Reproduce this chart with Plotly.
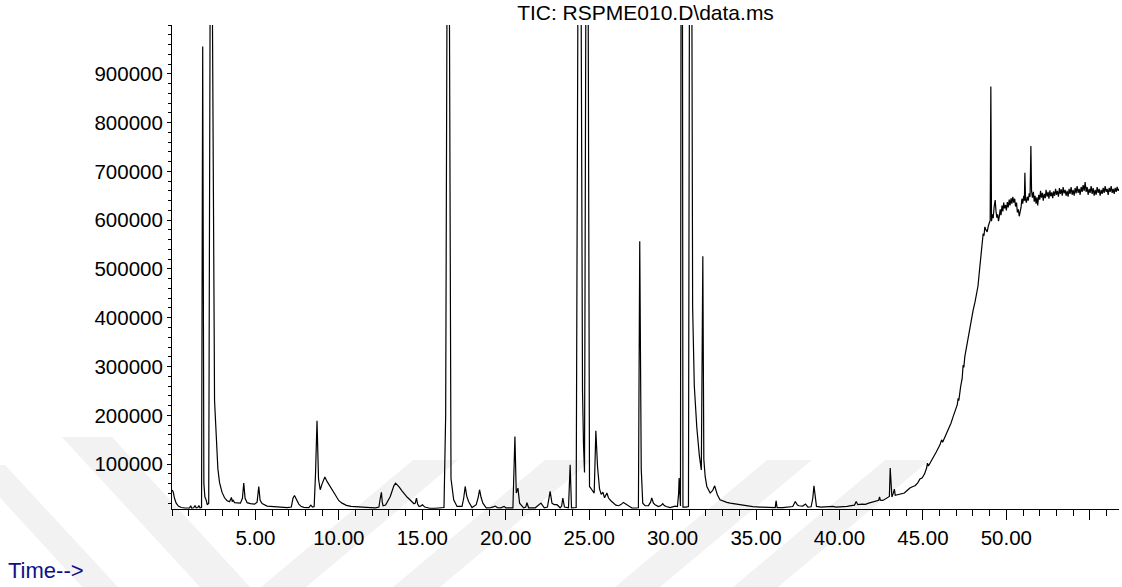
import plotly.graph_objects as go

# ---------------- data ----------------
time_min = [
    0.02, 0.08, 0.15, 0.25, 0.38, 0.55, 0.8, 1.05, 1.12, 1.18, 1.3, 1.38, 1.45, 1.55, 1.61, 1.68, 1.77,
    1.84, 1.91, 1.97, 2.05, 2.11, 2.2, 2.33, 2.55, 2.65, 2.75, 2.85, 3.0, 3.15, 3.3, 3.45, 3.56, 3.61,
    3.66, 3.75, 3.9, 4.1, 4.22, 4.3, 4.38, 4.5, 4.7, 4.95, 5.1, 5.2, 5.28, 5.4, 5.7, 6.0, 6.3, 6.6, 6.9,
    7.15, 7.25, 7.34, 7.45, 7.6, 7.75, 7.9, 8.2, 8.32, 8.42, 8.52, 8.6, 8.69, 8.78, 8.88, 9.0, 9.16, 9.3,
    9.44, 9.55, 9.65, 9.76, 9.87, 10.0, 10.19, 10.45, 10.73, 11.15, 11.5, 11.9, 12.2, 12.4, 12.48, 12.55,
    12.6, 12.65, 12.8, 12.95, 13.08, 13.2, 13.3, 13.4, 13.5, 13.62, 13.78, 13.94, 14.1, 14.26, 14.4, 14.5,
    14.58, 14.65, 14.72, 14.8, 14.9, 15.01, 15.15, 15.44, 15.8, 16.1, 16.3, 16.4, 16.55, 16.72, 16.88,
    17.08, 17.38, 17.48, 17.57, 17.66, 17.77, 17.98, 18.23, 18.35, 18.43, 18.52, 18.63, 18.83, 19.1, 19.3,
    19.37, 19.5, 19.7, 19.9, 20.0, 20.3, 20.43, 20.55, 20.63, 20.73, 20.83, 21.07, 21.2, 21.27, 21.37,
    21.77, 21.95, 22.11, 22.31, 22.5, 22.66, 22.77, 22.9, 23.07, 23.26, 23.35, 23.42, 23.52, 23.76, 23.86,
    23.94, 24.22, 24.42, 24.6, 24.66, 24.72, 24.87, 25.02, 25.16, 25.3, 25.4, 25.5, 25.62, 25.72, 25.82,
    25.92, 26.06, 26.16, 26.3, 26.46, 26.6, 26.76, 26.9, 27.05, 27.15, 27.26, 27.4, 27.56, 27.8, 27.95,
    28.03, 28.12, 28.21, 28.35, 28.55, 28.68, 28.75, 28.85, 28.95, 29.15, 29.3, 29.41, 29.5, 29.61, 29.85,
    30.15, 30.29, 30.36, 30.39, 30.43, 30.47, 30.55, 30.62, 30.8, 30.95, 31.07, 31.2, 31.3, 31.45, 31.6,
    31.72, 31.81, 31.87, 31.95, 32.05, 32.25, 32.4, 32.52, 32.6, 32.68, 32.84, 33.05, 33.25, 33.45, 33.64,
    34.0, 34.44, 34.8, 35.24, 35.6, 36.04, 36.15, 36.2, 36.26, 36.6, 36.9, 37.2, 37.35, 37.48, 37.57, 37.8,
    37.96, 38.11, 38.3, 38.4, 38.47, 38.55, 38.62, 38.9, 39.2, 39.39, 39.6, 39.8, 40.03, 40.25, 40.46,
    40.7, 40.9, 41.0, 41.1, 41.35, 41.55, 41.75, 41.95, 42.2, 42.35, 42.4, 42.45, 42.6, 42.8, 42.86,
    42.99, 43.04, 43.1, 43.14, 43.22, 43.29, 43.34, 43.45, 43.62, 43.89, 44.05, 44.22, 44.4, 44.53, 44.7,
    44.82, 44.96, 45.1, 45.22, 45.27, 45.33, 45.45, 45.62, 45.8, 46.02, 46.12, 46.18, 46.35, 46.5, 46.68,
    46.81, 46.95, 47.06, 47.11, 47.15, 47.26, 47.35, 47.41, 47.45, 47.51, 47.65, 47.81, 47.92, 48.01,
    48.12, 48.22, 48.3, 48.41, 48.5, 48.61, 48.66, 48.71, 48.78, 48.85, 48.92, 48.97, 49.03, 49.07,
    49.11, 49.16, 49.21, 49.27, 49.33, 49.38, 49.43, 49.48, 49.53, 49.58, 49.63, 49.68, 49.74, 49.79,
    49.84, 49.89, 49.95, 50.0, 50.06, 50.11, 50.17, 50.22, 50.28, 50.33, 50.39, 50.44, 50.5, 50.55,
    50.61, 50.66, 50.72, 50.77, 50.83, 50.88, 50.93, 50.98, 51.04, 51.08, 51.11, 51.15, 51.2, 51.25,
    51.31, 51.37, 51.42, 51.47, 51.51, 51.56, 51.62, 51.67, 51.72, 51.78, 51.83, 51.88, 51.94, 52.0,
    52.05, 52.1, 52.16, 52.21, 52.27, 52.33, 52.38, 52.44, 52.5, 52.55, 52.61, 52.66, 52.72, 52.78,
    52.83, 52.89, 52.95, 53.0, 53.06, 53.12, 53.18, 53.23, 53.29, 53.35, 53.4, 53.46, 53.52, 53.58,
    53.64, 53.7, 53.76, 53.82, 53.88, 53.94, 54.0, 54.06, 54.12, 54.18, 54.24, 54.3, 54.36, 54.42,
    54.48, 54.54, 54.6, 54.66, 54.72, 54.78, 54.84, 54.9, 54.96, 55.02, 55.08, 55.14, 55.2, 55.26,
    55.32, 55.38, 55.44, 55.5, 55.56, 55.62, 55.68, 55.74, 55.8, 55.86, 55.92, 55.98, 56.04, 56.1,
    56.16, 56.22, 56.28, 56.34, 56.4, 56.46, 56.52, 56.58, 56.64, 56.7, 56.75,
]

tic_abundance = [
    47000, 42000, 30000, 20000, 14000, 11000, 10000, 10000, 14500, 10000, 10500, 15000, 10500, 11000, 15000, 10500, 11000,
    956000, 60000, 33000, 26000, 16800, 20000, 1600000, 230000, 140000, 90000, 62000, 42000, 31000, 25000, 23000, 31700, 23000,
    26000, 21000, 20000, 20000, 30000, 61000, 30000, 21000, 19000, 18000, 22000, 54000, 26000, 19000, 14000, 13000, 12000, 11500, 11000,
    12000, 30000, 35800, 28000, 18000, 13000, 11500, 11000, 16000, 12000, 13000, 80000, 189000, 70000, 47500, 60000, 73400, 64000,
    55600, 50000, 44000, 37000, 30500, 25000, 20000, 15500, 13300, 12000, 11500, 11000, 10500, 12000, 30000, 42000,
    22000, 14700, 16000, 24000, 33800, 46000, 56000, 61000, 58000, 53000, 45000, 37200, 32000, 27000, 22000, 18800,
    20000, 30500, 18000, 13300, 14000, 16800, 12000, 9500, 9500, 10000, 11000, 200000, 1800000, 70000, 27000,
    13300, 13300, 30000, 54200, 35000, 23500, 11000, 16800, 32000, 47500, 32000, 20000, 10500, 11000, 13000,
    14000, 11000, 10500, 13300, 10500, 10500, 10500, 156500, 40700, 50900, 20000, 10500, 12000, 21000, 10500,
    10500, 15000, 20000, 10500, 12000, 44000, 20000, 17000, 16800, 10500, 14000, 30500, 12000, 10500, 98600,
    10500, 11000, 2000000, 250000, 140000, 83000, 1900000, 54200, 47500, 40700, 168200, 95000, 49000, 38000, 42700,
    31000, 40700, 30500, 25000, 20000, 16000, 14700, 17000, 21500, 19000, 16800, 13000, 10000, 10000, 10500,
    557000, 90000, 20000, 14700, 15000, 22000, 30500, 20000, 16800, 13000, 15000, 18800, 15000, 13000, 11000,
    14000, 13000, 40000, 71400, 30000, 14000, 2500000, 12000, 12000, 13000, 2200000, 420000, 260000, 175000, 118000,
    88000, 526000, 110000, 74700, 54200, 40700, 46000, 55500, 45000, 37200, 27000, 23500, 21500, 20000, 18800,
    16500, 14700, 13000, 12000, 11000, 10500, 11000, 25000, 11000, 11000, 11500, 13000, 23500, 16000, 14700, 14000,
    18200, 12000, 12500, 30000, 55700, 25000, 13300, 12000, 12500, 12000, 13500, 12000, 12000, 13000, 13300,
    15000, 16000, 23500, 16800, 18000, 17500, 20000, 21500, 24000, 26000, 33000, 26000, 25600, 30000, 32500,
    33800, 91900, 36000, 32500, 40000, 48900, 36000, 37000, 37200, 40700, 46000, 51000, 54000, 55700, 62000,
    69400, 72000, 80000, 91900, 102000, 96000, 103000, 115600, 125000, 139500, 149800, 145000, 158000, 168000, 183900,
    197400, 210000, 222000, 235000, 230000, 258800, 275000, 303200, 298000, 320200, 348000, 378300, 398000, 415700,
    432000, 447000, 465000, 504300, 535000, 572700, 568000, 586200, 580000, 575900, 588000, 593100, 599900, 874000,
    598000, 612000, 604000, 628000, 641000, 618000, 605000, 612000, 598000, 608000, 622000, 610000, 630000, 618000,
    636000, 624000, 631000, 620000, 637000, 626000, 642000, 630000, 645000, 634000, 648000, 636000, 644000, 628000,
    636000, 616000, 622000, 608000, 618000, 626000, 644000, 634000, 650000, 640000, 697000, 642000, 636000, 648000,
    640000, 655000, 648000, 752000, 660000, 646000, 658000, 638000, 650000, 634000, 647000, 630000, 652000, 642000,
    660000, 646000, 656000, 640000, 654000, 645000, 662000, 648000, 658000, 644000, 661000, 649000, 657000, 645000,
    659000, 650000, 664000, 652000, 660000, 648000, 666000, 654000, 663000, 650000, 668000, 655000, 662000, 650000,
    660000, 648000, 664000, 654000, 668000, 652000, 662000, 650000, 666000, 655000, 670000, 656000, 664000, 652000,
    668000, 658000, 672000, 660000, 678000, 658000, 668000, 652000, 664000, 656000, 670000, 654000, 666000, 650000,
    662000, 652000, 668000, 656000, 664000, 650000, 662000, 654000, 666000, 656000, 670000, 658000, 664000, 652000,
    666000, 658000, 670000, 656000, 664000, 654000, 666000, 658000, 668000, 660000, 664000,
]

x_tick_vals = [5, 10, 15, 20, 25, 30, 35, 40, 45, 50, 55]
x_tick_text = ["5.00", "10.00", "15.00", "20.00", "25.00", "30.00", "35.00", "40.00", "45.00", "50.00", ""]
y_tick_vals = [100000, 200000, 300000, 400000, 500000, 600000, 700000, 800000, 900000]
y_tick_text = ["100000", "200000", "300000", "400000", "500000", "600000", "700000", "800000", "900000"]

chart_title = "TIC: RSPME010.D\\data.ms"
x_label = "Time-->"

# ---------------- layout helpers ----------------
W, H = 1122, 587
L, R, T, B = 172, 3, 25, 78
PW, PH = W - L - R, H - T - B


def px_to_paper(px, py):
    return (px - L) / PW, (H - B - py) / PH


def poly_path(points):
    pts = [px_to_paper(x, y) for x, y in points]
    return "M " + " L ".join(f"{x:.4f},{y:.4f}" for x, y in pts) + " Z"


# faint diagonal watermark stripes in the lower part of the page
stripes = [
    [(-30, 465), (5, 465), (118, 587), (82, 587)],
    [(62, 437), (112, 437), (250, 587), (200, 587)],
    [(261, 587), (306, 587), (458, 460), (413, 460)],
    [(393, 587), (440, 587), (592, 460), (545, 460)],
    [(615, 587), (660, 587), (812, 460), (767, 460)],
    [(733, 587), (778, 587), (930, 460), (885, 460)],
]
shapes = [
    dict(type="path", path=poly_path(s), xref="paper", yref="paper",
         fillcolor="#f2f2f2", line=dict(width=0), layer="below")
    for s in stripes
]

fig = go.Figure(
    go.Scatter(
        x=time_min, y=tic_abundance, mode="lines",
        line=dict(color="black", width=1.2), hoverinfo="skip",
    )
)

FONT = "Liberation Sans, Arial, Helvetica, sans-serif"

fig.update_layout(
    width=W, height=H,
    margin=dict(l=L, r=R, t=T, b=B, autoexpand=False),
    paper_bgcolor="white",
    plot_bgcolor="rgba(0,0,0,0)",
    showlegend=False,
    font=dict(family=FONT, color="black", size=20),
    title=dict(
        text=chart_title, x=0.5, xref="paper", xanchor="center",
        y=1 - 13 / H, yref="container", yanchor="middle",
        font=dict(family=FONT, size=21, color="black"),
    ),
    shapes=shapes,
    annotations=[
        dict(text=x_label, xref="paper", yref="paper",
             x=(6 - L) / PW, y=(H - B - 570) / PH, xanchor="left", yanchor="middle",
             showarrow=False, font=dict(family=FONT, size=22, color="#10108a"))
    ],
)

fig.update_xaxes(
    range=[0, 56.75], showline=True, linecolor="black", linewidth=1,
    showgrid=False, zeroline=False,
    tickmode="array", tickvals=x_tick_vals, ticktext=x_tick_text,
    ticks="outside", ticklen=10, tickwidth=1, tickcolor="black",
    tickfont=dict(family=FONT, size=20.5, color="black"),
    minor=dict(tickmode="linear", tick0=0, dtick=1, ticks="outside", ticklen=6,
               tickwidth=1, tickcolor="black", showgrid=False),
    automargin=False, fixedrange=True,
)
fig.update_yaxes(
    range=[8000, 1000000], showline=True, linecolor="black", linewidth=1,
    showgrid=False, zeroline=False,
    tickmode="array", tickvals=y_tick_vals, ticktext=y_tick_text,
    ticks="outside", ticklen=4, tickwidth=1, tickcolor="black",
    tickfont=dict(family=FONT, size=20.5, color="black"),
    minor=dict(tickmode="linear", tick0=0, dtick=20000, ticks="outside", ticklen=3,
               tickwidth=1, tickcolor="black", showgrid=False),
    automargin=False, fixedrange=True,
)

fig.write_html("out.html", config={"displayModeBar": False})
